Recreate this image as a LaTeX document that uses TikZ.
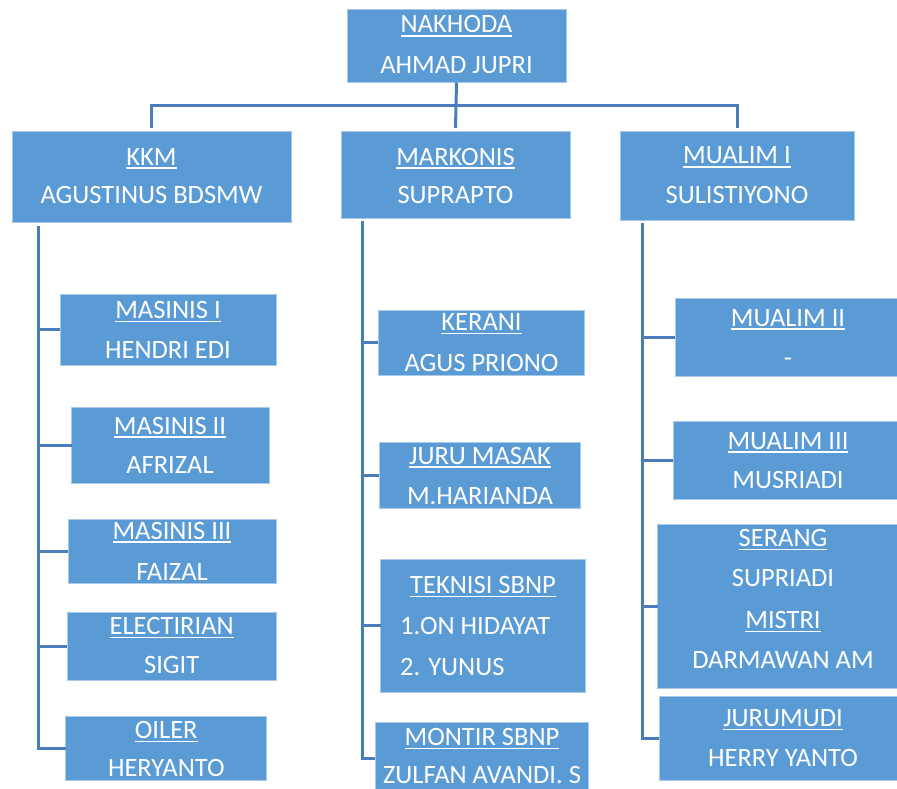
\documentclass[tikz,border=0pt]{standalone}
\usepackage{fontspec}
\setmainfont{Carlito}
\definecolor{boxblue}{HTML}{5B9BD5}
\definecolor{boxedge}{HTML}{A9CBEA}
\definecolor{linkblue}{HTML}{4A7EBB}
\newcommand\ulx[1]{\setbox0\hbox{#1}\rlap{\rule[-3.6pt]{\wd0}{1.3pt}}\box0}
\newcommand\bx[5]{\node[bx, minimum width={(#4-#2)*1pt}, minimum height={(#5-#3)*1pt}] (#1) at ({(#2+#4)/2},{(#3+#5)/2}) {};}
\newcommand\tx[4]{\node[tx] (#1) at (#2,#3) {#4};}
\newcommand\txl[4]{\node[tx, anchor=base west] (#1) at (#2,#3) {#4};}
\tikzset{
  bx/.style={rectangle, fill=boxblue, draw=boxedge, line width=0.9pt, inner sep=0pt, outer sep=0pt},
  tx/.style={anchor=base, inner sep=0pt, text=white, font=\fontsize{26.5}{30}\selectfont},
  conn/.style={draw=linkblue, line width=3pt}
}
\begin{document}
\begin{tikzpicture}[x=1pt,y=-1pt]
\useasboundingbox (0,0) rectangle (897,789);
% top
\bx{nak}{347}{9}{566}{82.5}
\tx{t0a}{456.5}{33}{\ulx{NAKHODA}}
\tx{t0b}{456.5}{74}{AHMAD JUPRI}
% level 1
\bx{kkm}{12}{131}{291}{222.5}
\tx{t1a}{151.5}{165}{\ulx{KKM}}
\tx{t1b}{151.5}{204}{AGUSTINUS BDSMW}
\bx{mar}{341}{131}{570}{218.5}
\tx{t2a}{455.5}{165}{\ulx{MARKONIS}}
\tx{t2b}{455.5}{204}{SUPRAPTO}
\bx{mua}{620}{131}{854}{220}
\tx{t3a}{737}{164}{\ulx{MUALIM I}}
\tx{t3b}{737}{203}{SULISTIYONO}
% top connectors
\coordinate (bar) at (456,106);
\draw[conn] ([yshift=3pt]kkm.north) |- (bar) -| ([yshift=3pt]mua.north);
\draw[conn] (nak.south) -- ([yshift=3pt]mar.north);
% left column
\bx{m1}{60}{294.3}{276}{365}
\tx{l1a}{168}{318.3}{\ulx{MASINIS I}}
\tx{l1b}{168}{358.3}{HENDRI EDI}
\bx{m2}{71.7}{407}{269}{483}
\tx{l2a}{170}{434}{\ulx{MASINIS II}}
\tx{l2b}{170}{473.3}{AFRIZAL}
\bx{m3}{68}{519.3}{276}{583.7}
\tx{l3a}{172}{539}{\ulx{MASINIS III}}
\tx{l3b}{172}{580}{FAIZAL}
\bx{el}{67.3}{612}{276}{680}
\tx{l4a}{171.7}{634.3}{\ulx{ELECTIRIAN}}
\tx{l4b}{171.7}{673.3}{SIGIT}
\bx{oil}{65.7}{716.7}{266.3}{780.7}
\tx{l5a}{166.3}{738.3}{\ulx{OILER}}
\tx{l5b}{166.3}{776.7}{HERYANTO}
\coordinate (spL) at (38,226);
\draw[conn] (spL) |- (oil.west);
\foreach \n in {m1,m2,m3,el}{\draw[conn] (spL |- \n.west) -- (\n.west);}
% middle column
\bx{ker}{378.3}{310}{584.3}{375.7}
\tx{c1a}{481.5}{330.7}{\ulx{KERANI}}
\tx{c1b}{481.5}{371}{AGUS PRIONO}
\bx{jm}{379}{442.7}{580}{508.7}
\tx{c2a}{480}{464}{\ulx{JURU MASAK}}
\tx{c2b}{480}{504}{M.HARIANDA}
\bx{tek}{380.7}{559.3}{585}{692.3}
\tx{c3a}{483}{593.3}{\ulx{TEKNISI SBNP}}
\txl{c3b}{400}{634}{1.ON HIDAYAT}
\txl{c3c}{400}{675}{2. YUNUS}
\bx{mon}{375}{722.7}{588.3}{794}
\tx{c4a}{482}{745.7}{\ulx{MONTIR SBNP}}
\tx{c4b}{482}{783.5}{ZULFAN AVANDI. S}
\coordinate (spM) at (362.7,221);
\draw[conn] (spM) |- (mon.west);
\foreach \n in {ker,jm,tek}{\draw[conn] (spM |- \n.west) -- (\n.west);}
% right column
\bx{mu2}{675}{298.3}{899}{376.7}
\tx{r1a}{788}{326}{\ulx{MUALIM II}}
\tx{r1b}{788}{366}{-}
\bx{mu3}{673.3}{421}{899}{499.3}
\tx{r2a}{788}{449}{\ulx{MUALIM III}}
\tx{r2b}{788}{488.3}{MUSRIADI}
\bx{ser}{657.7}{524.3}{899}{688}
\tx{r3a}{783}{546.7}{\ulx{SERANG}}
\tx{r3b}{783}{586.7}{SUPRIADI}
\tx{r3c}{783}{628.3}{\ulx{MISTRI}}
\tx{r3d}{783}{668.3}{DARMAWAN AM}
\bx{jr}{659.3}{696.7}{899}{780}
\tx{r4a}{783}{726.7}{\ulx{JURUMUDI}}
\tx{r4b}{783}{766.7}{HERRY YANTO}
\coordinate (spR) at (642.7,223);
\draw[conn] (spR) |- (jr.west);
\foreach \n in {mu2,mu3,ser}{\draw[conn] (spR |- \n.west) -- (\n.west);}
\end{tikzpicture}
\end{document}
